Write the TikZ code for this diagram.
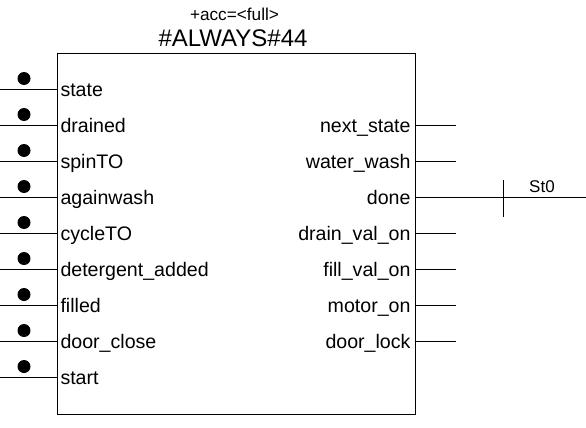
\documentclass[tikz,border=0pt]{standalone}
\usepackage{fontspec}
\setmainfont{Liberation Sans}
\begin{document}
\begin{tikzpicture}[
  x=1pt, y=-1pt,
  pinlabel/.style={font=\fontsize{19.6}{21}\selectfont, inner sep=0pt},
  inlabel/.style={pinlabel, anchor=base west},
  outlabel/.style={pinlabel, anchor=base east},
  bigdot/.style={circle, fill, minimum size=13pt, inner sep=0pt},
  line width=1pt
]
  \useasboundingbox (0,0) rectangle (586,428);
  \node[draw, minimum width=358pt, minimum height=361pt, inner sep=0pt, anchor=north west] (block) at (57,53) {};
  \node[font=\fontsize{17.2}{19}\selectfont, anchor=base] (acc) at (234.5,21) {+acc=<full>};
  \node[font=\fontsize{24}{26}\selectfont, anchor=base] (title) at (233,47) {\#ALWAYS\#44};

  % inputs
  \coordinate (in1) at (0,89.5);
  \coordinate (in2) at (0,125.5);
  \coordinate (in3) at (0,161.5);
  \coordinate (in4) at (0,197.5);
  \coordinate (in5) at (0,233.5);
  \coordinate (in6) at (0,269.5);
  \coordinate (in7) at (0,305.5);
  \coordinate (in8) at (0,341.5);
  \coordinate (in9) at (0,377.5);

  \node[bigdot] (dot1) at (24,78.5) {};
  \node[bigdot] (dot2) at (24,114.5) {};
  \node[bigdot] (dot3) at (24,150.5) {};
  \node[bigdot] (dot4) at (24,186.5) {};
  \node[bigdot] (dot5) at (24,222.5) {};
  \node[bigdot] (dot6) at (24,258.5) {};
  \node[bigdot] (dot7) at (24,294.5) {};
  \node[bigdot] (dot8) at (24,330.5) {};
  \node[bigdot] (dot9) at (24,366.5) {};

  \node[inlabel] (state) at (60,96.5) {state};
  \node[inlabel] (drained) at (60,132.5) {drained};
  \node[inlabel] (spinTO) at (60,168.5) {spinTO};
  \node[inlabel] (againwash) at (60,204.5) {againwash};
  \node[inlabel] (cycleTO) at (60,240.5) {cycleTO};
  \node[inlabel] (detergent) at (60,276.5) {detergent\_added};
  \node[inlabel] (filled) at (60,312.5) {filled};
  \node[inlabel] (doorclose) at (60,348.5) {door\_close};
  \node[inlabel] (start) at (60,384.5) {start};

  \draw (in1) -- (in1 -| block.west);
  \draw (in2) -- (in2 -| block.west);
  \draw (in3) -- (in3 -| block.west);
  \draw (in4) -- (in4 -| block.west);
  \draw (in5) -- (in5 -| block.west);
  \draw (in6) -- (in6 -| block.west);
  \draw (in7) -- (in7 -| block.west);
  \draw (in8) -- (in8 -| block.west);
  \draw (in9) -- (in9 -| block.west);

  % outputs
  \coordinate (out1) at (456,125.5);
  \coordinate (out2) at (456,161.5);
  \coordinate (out3) at (586,197.5);
  \coordinate (out4) at (456,233.5);
  \coordinate (out5) at (456,269.5);
  \coordinate (out6) at (456,305.5);
  \coordinate (out7) at (456,341.5);

  \node[outlabel] (nextstate) at (411,132.5) {next\_state};
  \node[outlabel] (waterwash) at (411,168.5) {water\_wash};
  \node[outlabel] (done) at (411,204.5) {done};
  \node[outlabel] (drainval) at (411,240.5) {drain\_val\_on};
  \node[outlabel] (fillval) at (411,276.5) {fill\_val\_on};
  \node[outlabel] (motoron) at (411,312.5) {motor\_on};
  \node[outlabel] (doorlock) at (411,348.5) {door\_lock};

  \draw (out1 -| block.east) -- (out1);
  \draw (out2 -| block.east) -- (out2);
  \draw (out3 -| block.east) -- (out3);
  \draw (out4 -| block.east) -- (out4);
  \draw (out5 -| block.east) -- (out5);
  \draw (out6 -| block.east) -- (out6);
  \draw (out7 -| block.east) -- (out7);

  % net tick on done
  \coordinate (tickTop) at (503,180);
  \coordinate (tickBot) at (503,217);
  \draw (tickTop) -- (tickBot);
  \node[font=\fontsize{17}{19}\selectfont, anchor=base] (st0) at (542,192.7) {St0};
\end{tikzpicture}
\end{document}
